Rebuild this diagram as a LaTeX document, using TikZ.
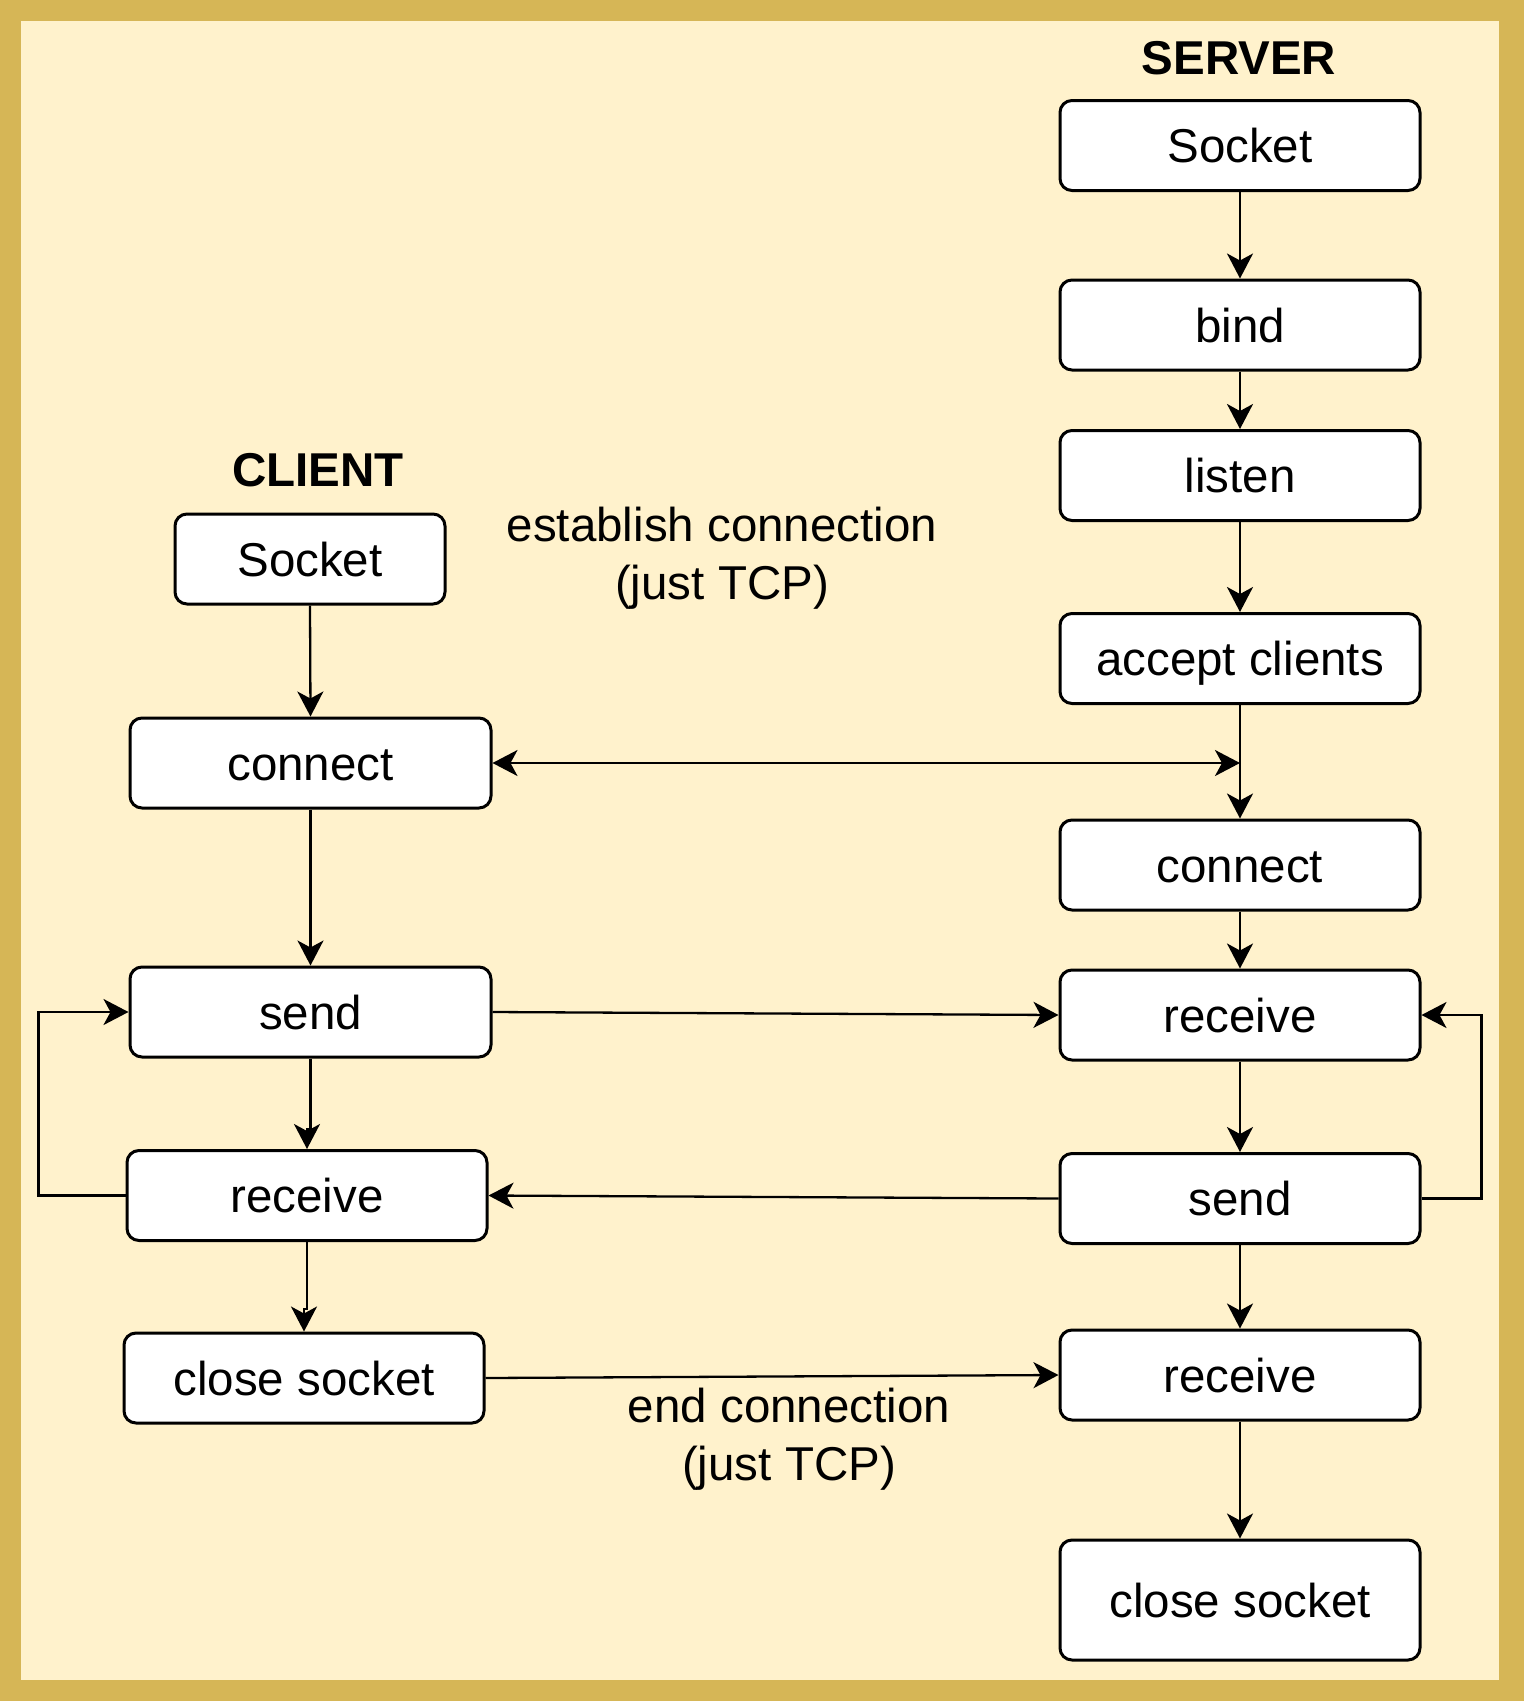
\documentclass[tikz,border=0pt]{standalone}
\usepackage{fontspec}
\setmainfont{Liberation Sans}
\usetikzlibrary{arrows.meta,calc}
\definecolor{goldedge}{HTML}{D6B656}
\definecolor{creamfill}{HTML}{FFF2CC}
\begin{document}
\begin{tikzpicture}[x=1pt,y=-1pt,
  >={Stealth[length=25pt,width=26pt,inset=7pt]},
  box/.style={draw=black,line width=3pt,fill=white,rounded corners=12pt,
    minimum height=90pt,inner sep=0pt,font=\fontsize{47.5}{58}\selectfont,
    text height=34pt,text depth=0pt},
  link/.style={line width=2.3pt,->},
  biglink/.style={line width=2.3pt,<->},
  lbl/.style={font=\fontsize{47.5}{58}\selectfont,align=center,inner sep=0pt},
  ttl/.style={font=\fontsize{47.5}{58}\selectfont\bfseries,inner sep=0pt,
    text height=34pt,text depth=0pt}]
% frame
\fill[goldedge] (0,0) rectangle (1524,1701);
\fill[creamfill] (21,21) rectangle (1499,1680);
\useasboundingbox (0,0) rectangle (1524,1701);
% titles
\node[ttl] (server) at (1239,57.5) {SERVER};
\node[ttl] (client) at (318,469) {CLIENT};
% server column
\node[box,minimum width=360pt] (sSock) at (1240,145.5) {Socket};
\node[box,minimum width=360pt] (sBind) at (1240,325) {bind};
\node[box,minimum width=360pt] (sListen) at (1240,475.5) {listen};
\node[box,minimum width=360pt] (sAccept) at (1240,658.5) {accept clients};
\node[box,minimum width=360pt] (sConn) at (1240,865) {connect};
\node[box,minimum width=360pt] (sRecv) at (1240,1015) {receive};
\node[box,minimum width=360pt] (sSend) at (1240,1198.5) {send};
\node[box,minimum width=360pt] (sRecvB) at (1240,1375) {receive};
\node[box,minimum width=360pt,minimum height=120pt] (sClose) at (1240,1600) {close socket};
% client column
\node[box,minimum width=270pt] (cSock) at (310,559) {Socket};
\node[box,minimum width=361pt] (cConn) at (310.5,763) {connect};
\node[box,minimum width=361pt] (cSend) at (310.5,1012) {send};
\node[box,minimum width=360pt] (cRecv) at (307,1195.5) {receive};
\node[box,minimum width=360pt] (cClose) at (304,1378) {close socket};
% labels
\node[lbl] (est) at (722,558) {establish connection\\(just TCP)};
\node[lbl] (endc) at (789,1439) {end connection\\(just TCP)};
% server flow
\draw[link] (sSock) -- (sBind);
\draw[link] (sBind) -- (sListen);
\draw[link] (sListen) -- (sAccept);
\draw[link] (sAccept) -- (sConn);
\draw[link] (sConn) -- (sRecv);
\draw[link] (sRecv) -- (sSend);
\draw[link] (sSend) -- (sRecvB);
\draw[link] (sRecvB) -- (sClose);
% client flow
\draw[link] (cSock.south) -- (cConn.north);
\draw[link] (cConn.south) -- (cSend.north);
\draw[link] (cSend.south) -- ++(0,71) -| (cRecv.north);
\draw[link] (cRecv.south) -- ++(0,67) -| (cClose.north);
% between
\coordinate (jn) at (sAccept.south |- cConn.east);
\draw[biglink] (cConn.east) -- (jn);
\draw[link] (cSend.east) -- (sRecv.west);
\draw[link] (sSend.west) -- (cRecv.east);
\draw[link] (cClose.east) -- (sRecvB.west);
% loops
\draw[link] (cRecv.west) -- ++(-87,0) |- (cSend.west);
\draw[link] (sSend.east) -- ++(60,0) |- (sRecv.east);
\end{tikzpicture}
\end{document}
